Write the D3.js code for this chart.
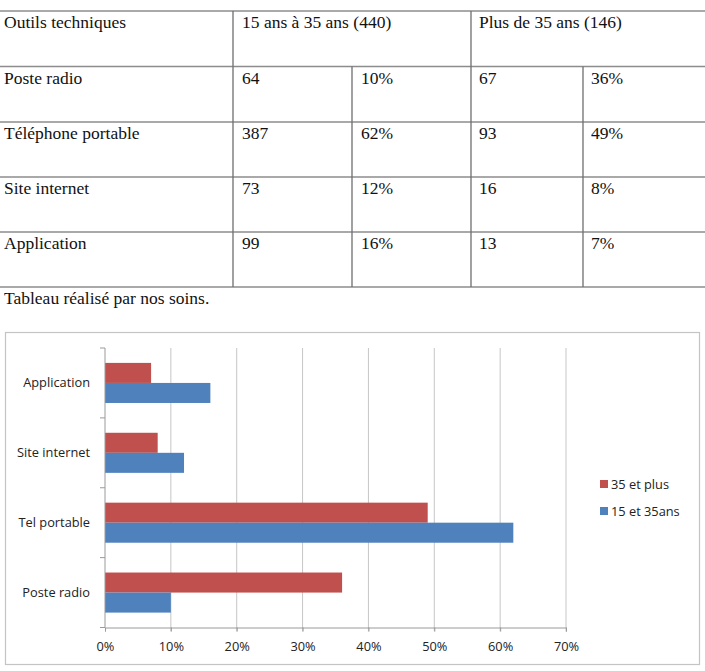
<!DOCTYPE html>
<html><head><meta charset="utf-8">
<script src="https://cdn.jsdelivr.net/npm/d3@7"></script>
<style>body{margin:0;background:#fff}svg{display:block}</style>
</head><body><svg id="c" width="705" height="671"></svg>
<script>
// ---- Table data
const headers = ["Outils techniques", "15 ans à 35 ans (440)", "Plus de 35 ans (146)"];
const tools = ["Poste radio", "Téléphone portable", "Site internet", "Application"];
const countYoung = [64, 387, 73, 99];
const pctYoung = ["10%", "62%", "12%", "16%"];
const countOld = [67, 93, 16, 13];
const pctOld = ["36%", "49%", "8%", "7%"];
const caption = "Tableau réalisé par nos soins.";

// ---- Chart data
const categories = ["Poste radio", "Tel portable", "Site internet", "Application"];
const seriesNames = ["35 et plus", "15 et 35ans"];
const seriesOld = [36, 49, 8, 7];
const seriesYoung = [10, 62, 12, 16];
const xTicks = [0, 10, 20, 30, 40, 50, 60, 70];
const colors = {"35 et plus": "#C0504D", "15 et 35ans": "#4F81BD"};

const svg = d3.select("#c");

// ---------- Table ----------
const rowLines = [11, 66.5, 122, 177, 232, 287];
const colX = [0, 233, 352, 471, 583];
const serif = "'Liberation Serif','Times New Roman',serif";
const tg = svg.append("g");
tg.selectAll("line.h").data(rowLines).join("line")
  .attr("x1", 0).attr("x2", 705).attr("y1", d => d).attr("y2", d => d)
  .attr("stroke", "#8c8c8c").attr("stroke-width", 1.6);
[colX[1], colX[3]].forEach(x => tg.append("line").attr("x1", x).attr("x2", x)
  .attr("y1", rowLines[0]).attr("y2", rowLines[1]).attr("stroke", "#6e6e6e").attr("stroke-width", 1.3));
colX.slice(1).forEach(x => tg.append("line").attr("x1", x).attr("x2", x)
  .attr("y1", rowLines[1]).attr("y2", rowLines[5]).attr("stroke", "#6e6e6e").attr("stroke-width", 1.3));
const txt = (x, y, s) => tg.append("text").attr("x", x).attr("y", y).text(s)
  .attr("font-family", serif).attr("font-size", 17.5).attr("fill", "#111");
txt(4, rowLines[0] + 17, headers[0]);
txt(colX[1] + 9, rowLines[0] + 17, headers[1]);
txt(colX[3] + 8, rowLines[0] + 17, headers[2]);
tools.forEach((t, i) => {
  const y = rowLines[i + 1] + 17;
  txt(4, y, t);
  txt(colX[1] + 9, y, countYoung[i]);
  txt(colX[2] + 9, y, pctYoung[i]);
  txt(colX[3] + 8, y, countOld[i]);
  txt(colX[4] + 8, y, pctOld[i]);
});
txt(4, 304, caption);

// ---------- Chart ----------
const sans = "'Open Sans','Noto Sans',sans-serif";
const fs = 12.8;
svg.append("rect").attr("x", 5.5).attr("y", 332.5).attr("width", 694).attr("height", 332)
  .attr("fill", "#fff").attr("stroke", "#c4c4c4").attr("stroke-width", 1.2);

const x = d3.scaleLinear().domain([0, 70]).range([105, 566]);
const yTop = 348, yBot = 627.5;
const y = d3.scaleBand().domain(categories.slice().reverse()).range([yTop, yBot]).padding(0);
const yInner = d3.scaleBand().domain(seriesNames).range([0, y.bandwidth()]).paddingInner(0).paddingOuter(0.744);

const cg = svg.append("g");
cg.selectAll("line.grid").data(xTicks.slice(1)).join("line")
  .attr("x1", d => x(d)).attr("x2", d => x(d)).attr("y1", yTop).attr("y2", yBot + 4)
  .attr("stroke", "#c6c6c6").attr("stroke-width", 1);

const rows = categories.map((c, i) => ({c, vals: [
  {s: seriesNames[0], v: seriesOld[i]},
  {s: seriesNames[1], v: seriesYoung[i]}]}));
const bg = cg.selectAll("g.cat").data(rows).join("g")
  .attr("transform", d => `translate(0,${y(d.c)})`);
bg.selectAll("rect").data(d => d.vals).join("rect")
  .attr("x", x(0)).attr("y", d => yInner(d.s))
  .attr("width", d => x(d.v) - x(0)).attr("height", yInner.bandwidth())
  .attr("fill", d => colors[d.s]);

const xa = cg.append("g").attr("transform", `translate(0,${yBot})`)
  .call(d3.axisBottom(x).tickValues(xTicks).tickFormat(d => d + "%").tickSize(4).tickPadding(10));
xa.select(".domain").attr("stroke", "#9a9a9a");
xa.selectAll(".tick line").attr("stroke", "#9a9a9a");
xa.selectAll("text").attr("font-family", sans).attr("font-size", fs).attr("fill", "#222");

const ya = cg.append("g").attr("transform", `translate(${x(0)},0)`)
  .call(d3.axisLeft(y).tickSize(0).tickPadding(15));
ya.select(".domain").attr("stroke", "#9a9a9a").attr("d", `M0,${yTop}V${yBot}`);
ya.selectAll("text").attr("font-family", sans).attr("font-size", fs).attr("fill", "#222");
const bounds = categories.map(c => y(c)).concat([yBot]);
cg.selectAll("line.yt").data(bounds).join("line")
  .attr("x1", x(0) - 5).attr("x2", x(0)).attr("y1", d => d).attr("y2", d => d)
  .attr("stroke", "#9a9a9a");

const lg = svg.append("g").attr("transform", "translate(600,480)");
seriesNames.forEach((s, i) => {
  const g = lg.append("g").attr("transform", `translate(0,${i * 27})`);
  g.append("rect").attr("x", 0).attr("y", 0).attr("width", 8).attr("height", 8).attr("fill", colors[s]);
  g.append("text").attr("x", 11).attr("y", 9).text(s)
    .attr("font-family", sans).attr("font-size", fs).attr("fill", "#222");
});
</script></body></html>
